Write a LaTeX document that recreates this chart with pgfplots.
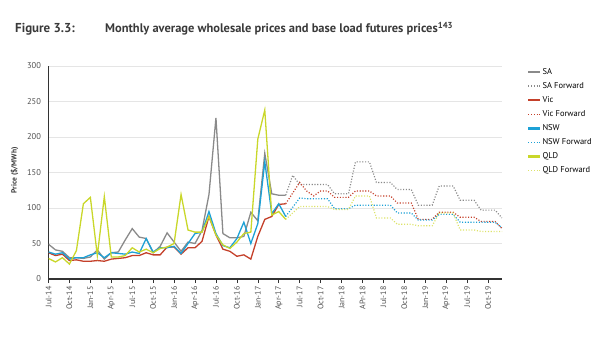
\documentclass[border=0pt]{standalone}
\usepackage{fontspec}
\setmainfont{PT Sans}
\usepackage{pgfplots}
\pgfplotsset{compat=1.18}
\usepackage{pgfplotstable}
\definecolor{saC}{HTML}{8A8A8A}
\definecolor{vicC}{HTML}{C4402A}
\definecolor{nswC}{HTML}{1DA1D6}
\definecolor{qldC}{HTML}{C9D72A}
\definecolor{qldF}{HTML}{DDE36A}
\definecolor{txtC}{HTML}{3A3A3A}
\definecolor{tickC}{HTML}{505050}
\pgfplotstableread{
i sa vic nsw qld
0 49 37 38 29
1 41 33 35 24
2 39 35 37 30
3 30 26 28 21
4 30 27 30 40
5 29 25 30 106
6 31 25 34 115
7 41 26 37 33
8 28 25 30 116
9 37 28 37 31
10 38 29 36 31
11 55 30 35 33
12 71 33 38 44
13 59 33 36 38
14 57 37 57 42
15 37 34 38 37
16 46 34 44 43
17 65 45 44 45
18 52 45 46 50
19 39 35 36 119
20 52 44 50 69
21 50 44 64 66
22 68 53 66 66
23 119 88 95 88
24 227 62 64 62
25 64 42 47 48
26 58 39 44 43
27 58 32 57 52
28 60 34 80 64
29 94 28 50 66
30 82 60 78 197
31 177 84 165 238
32 120 88 92 90
33 118 105 106 95
34 118 106 88 84
}\actual
\pgfplotstableread{
i sa vic nsw qld
34 118 106 88 84
35 146 121 101 93
36 133 136 114 102
37 133 124 113 102
38 133 117 113 102
39 133 124 113 102
40 133 124 113 102
41 120 115 99 98
42 120 115 99 98
43 120 115 99 98
44 165 124 104 117
45 165 124 104 117
46 165 124 104 117
47 136 117 104 86
48 136 117 104 86
49 136 117 104 86
50 126 107 93 77
51 126 107 93 77
52 126 107 93 77
53 104 84 83 75
54 104 84 83 75
55 104 84 83 75
56 131 94 91 93
57 131 94 91 93
58 131 94 91 93
59 111 87 80 69
60 111 87 80 69
61 111 87 80 69
62 97 81 80 67
63 97 81 80 67
64 97 81 80 67
65 86 71 72 67
}\fwd
\begin{document}
\begin{tikzpicture}
\useasboundingbox (0,0) rectangle (600bp,351bp);
\node[anchor=base west, font=\fontsize{13}{14}\selectfont\bfseries, text=txtC, inner sep=0pt] at (15bp,318bp) {Figure 3.3:};
\node[anchor=base west, font=\fontsize{12.5}{14}\selectfont\bfseries, text=txtC, inner sep=0pt] at (105bp,318bp) {Monthly average wholesale prices and base load futures prices\textsuperscript{143}};
\begin{axis}[
  at={(48.5bp,72bp)}, anchor=south west, scale only axis,
  width=453.5bp, height=213bp,
  xmin=0, xmax=65, ymin=0, ymax=300,
  ytick={0,50,...,300},
  xtick={0,3,...,63},
  xticklabels={Jul-14,Oct-14,Jan-15,Apr-15,Jul-15,Oct-15,Jan-16,Apr-16,Jul-16,Oct-16,Jan-17,Apr-17,Jul-17,Oct-17,Jan-18,APr-18,Jul-18,Oct-18,Jan-19,Apr-19,Jul-19,Oct-19},
  /pgf/number format/assume math mode=true,
  ymajorgrids, grid style={draw=black!10, line width=0.5pt},
  axis x line*=bottom, axis y line*=left,
  axis line style={draw=black!80, line width=1.5pt, -},
  tick align=outside, major tick length=4bp,
  xtick style={draw=black!80, line width=0.6pt},
  ytick style={draw=none},
  x tick label style={rotate=90, anchor=east, font=\fontsize{8}{9}\selectfont, text=tickC},
  y tick label style={font=\fontsize{8.5}{9}\selectfont, text=tickC},
  ylabel={Price (\$/MWh)},
  ylabel style={font=\bfseries\fontsize{7.5}{9}\selectfont, text=txtC, at={(axis description cs:-0.075,0.51)}, anchor=center},
  legend style={at={(1.055,0.995)}, anchor=north west, draw=none, fill=none, font=\fontsize{8.5}{10}\selectfont, row sep=4.6pt, inner sep=0pt, nodes={inner sep=1pt}},
  legend cell align=left,
  legend image code/.code={\draw[#1] (0bp,0bp) -- (12bp,0bp);},
]
\addplot[saC, line width=1.3pt, no marks, legend image post style={saC, line width=2.4pt}] table[x=i, y=sa] {\actual};
\addlegendentry{SA}
\addplot[saC, line width=1.2pt, dash pattern=on 1.1pt off 1.7pt, no marks, legend image post style={saC, line width=1.3pt}] table[x=i, y=sa] {\fwd};
\addlegendentry{SA Forward}
\addplot[vicC, line width=1.3pt, no marks, legend image post style={vicC, line width=2.4pt}] table[x=i, y=vic] {\actual};
\addlegendentry{Vic}
\addplot[vicC, line width=1.2pt, dash pattern=on 1.1pt off 1.7pt, no marks, legend image post style={vicC, line width=1.3pt}] table[x=i, y=vic] {\fwd};
\addlegendentry{Vic Forward}
\addplot[nswC, line width=1.3pt, no marks, legend image post style={nswC, line width=2.4pt}] table[x=i, y=nsw] {\actual};
\addlegendentry{NSW}
\addplot[nswC, line width=1.2pt, dash pattern=on 1.1pt off 1.7pt, no marks, legend image post style={nswC, line width=1.3pt}] table[x=i, y=nsw] {\fwd};
\addlegendentry{NSW Forward}
\addplot[qldC, line width=1.3pt, no marks, legend image post style={qldC, line width=2.4pt}] table[x=i, y=qld] {\actual};
\addlegendentry{QLD}
\addplot[qldF, line width=1.2pt, dash pattern=on 1.1pt off 1.7pt, no marks, legend image post style={qldF, line width=1.3pt}] table[x=i, y=qld] {\fwd};
\addlegendentry{QLD Forward}
\end{axis}
\end{tikzpicture}
\end{document}
